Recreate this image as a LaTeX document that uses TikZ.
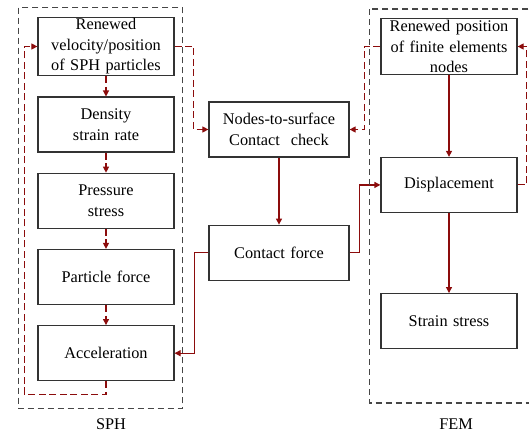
\documentclass[tikz,border=0pt]{standalone}
\usepackage{fontspec}
\setmainfont{Liberation Serif}
\usetikzlibrary{positioning, calc}
\usetikzlibrary{arrows.meta}
\usepackage{xcolor}
\definecolor{linkred}{RGB}{140,12,12}
\definecolor{framegray}{RGB}{70,70,70}

\begin{document}
\begin{tikzpicture}[
                x=1pt, y=-1pt,
                block/.style={rectangle, draw=black!80, line width=1.2pt, text width=130pt, align=center, minimum height=55pt, inner xsep=3pt, inner ysep=1.5pt, font=\fontsize{16.3}{20.5}\selectfont},
                wideblock/.style={block, text width=134pt},
                frame/.style={draw=framegray, line width=1.4pt, dash pattern=on 6pt off 4pt},
                label/.style={font=\fontsize{16.3}{20.5}\selectfont},
                line/.style={draw=linkred, line width=1.2pt, -{Triangle[length=6pt, width=6pt]}},
                dline/.style={line, line width=1.1pt, dash pattern=on 7pt off 3.5pt}
            ]
                \useasboundingbox (0,0) rectangle (529,435);
                \clip (0,0) rectangle (529,435);

                % SPH column
                \node[block] (sph1) at (106,46.5) {Renewed \\ velocity/position \\ of SPH particles};
                \node[block, below=20pt of sph1] (sph2) {Density \\ strain rate};
                \node[block, below=20pt of sph2] (sph3) {Pressure \\ stress};
                \node[block, below=20pt of sph3] (sph4) {Particle force};
                \node[block, below=20pt of sph4] (sph5) {Acceleration};

                \path[dline] (sph1) -- (sph2);
                \path[dline] (sph2) -- (sph3);
                \path[dline] (sph3) -- (sph4);
                \path[dline] (sph4) -- (sph5);
                \path[dline] (sph5.south) -- ++(0,13) -| ($(sph1.west)+(-13,0)$) -- (sph1.west);

                % contact
                \node[wideblock] (cnt1) at (279,129.5) {Nodes-to-surface \\ Contact~~check};
                \node[wideblock, below=67pt of cnt1] (cnt2) {Contact force};

                \path[line] (cnt1) -- (cnt2);

                % FEM column
                \node[block] (fem1) at (449,46.5) {Renewed position \\ of finite elements \\ nodes};
                \node[block, below=82pt of fem1] (fem2) {Displacement};
                \node[block, below=80pt of fem2] (fem3) {Strain stress};

                \path[line] (fem1) -- (fem2);
                \path[line] (fem2) -- (fem3);

                % links between columns
                \path[dline] (sph1.east) -- ++(19,0) |- (cnt1.west);
                \path[dline] (fem1.west) -- ++(-16,0) |- (cnt1.east);
                \path[dline] (fem2.east) -- ++(9,0) |- (fem1.east);
                \path[line] (cnt2.west) -- ++(-14,0) |- (sph5.east);
                \path[line] (cnt2.east) -- ++(10,0) |- (fem2.west);

                % frames
                \draw[frame] ($(sph1.north west)+(-19,-9)$) rectangle ($(sph5.south east)+(8,27)$);
                \draw[frame] ($(fem1.north west)+(-11,-9)$) rectangle (545,403);
                \node[label] (sphlbl) at (111,424) {SPH};
                \node[label] (femlbl) at (456,424) {FEM};
            \end{tikzpicture}
\end{document}
